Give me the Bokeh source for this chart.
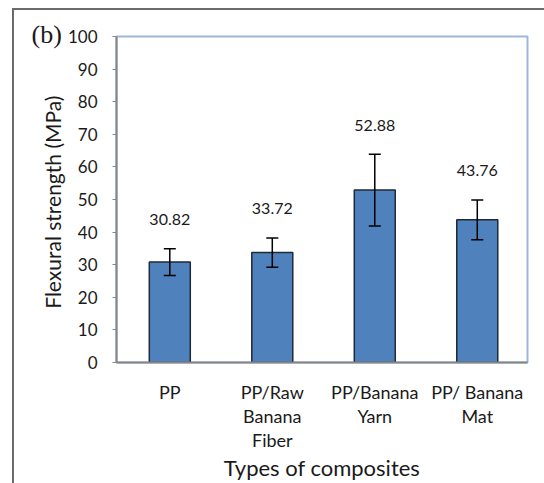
from bokeh.plotting import figure
from bokeh.models import Range1d, FixedTicker, Whisker, ColumnDataSource, TeeHead
from bokeh.embed import file_html
from bokeh.resources import INLINE
from bokeh.core.properties import value

categories = ["PP", "PP/Raw\nBanana\nFiber", "PP/Banana\nYarn", "PP/ Banana\nMat"]
strength = [30.82, 33.72, 52.88, 43.76]
errors = [4.1, 4.5, 11.0, 6.1]
y_ticks = [0, 10, 20, 30, 40, 50, 60, 70, 80, 90, 100]

FONT = "Lato"
TXT = "#1a1a1a"
xs = list(range(1, len(categories) + 1))
src = ColumnDataSource(dict(
    x=xs, top=strength,
    upper=[s + e for s, e in zip(strength, errors)],
    lower=[s - e for s, e in zip(strength, errors)],
    lab=[f"{s:.2f}" for s in strength],
))

p = figure(frame_width=411, frame_height=326, output_backend="svg", toolbar_location=None,
           x_range=Range1d(0.48, 4.49), y_range=Range1d(0, 100),
           min_border_left=102, min_border_right=19, min_border_top=26, min_border_bottom=110)
p.margin = (8, 0, 0, 12)
p.styles = {"border-left": "2px solid #6b6b6b", "border-top": "2px solid #6b6b6b"}

p.title.text = "(b)"
p.title.align = "left"
p.title.offset = -85
p.title.standoff = -24
p.title.text_font = "Liberation Serif"
p.title.text_font_size = "26px"
p.title.text_font_style = "normal"
p.title.text_color = TXT

p.grid.visible = False
p.outline_line_color = "#9bb7d9"
p.outline_line_width = 2

p.vbar(x="x", top="top", width=0.4, source=src, fill_color="#4f81bd",
       line_color="#1e2a36", line_width=1.5)
p.add_layout(Whisker(base="x", upper="upper", lower="lower", source=src,
                     level="overlay", line_color="black", line_width=1.5,
                     upper_head=TeeHead(size=12, line_color="black", line_width=1.5),
                     lower_head=TeeHead(size=12, line_color="black", line_width=1.5)))
p.text(x="x", y="upper", text="lab", source=src, text_align="center",
       text_baseline="middle", y_offset=-29, text_font=value(FONT),
       text_font_size="16px", text_color=TXT)

p.yaxis.ticker = FixedTicker(ticks=y_ticks)
p.yaxis.minor_tick_line_color = None
p.yaxis.major_tick_out = 4
p.yaxis.major_tick_in = 0
p.yaxis.major_tick_line_color = "#868686"
p.yaxis.axis_line_color = "#868686"
p.yaxis.axis_line_width = 2
p.yaxis.major_label_text_font = FONT
p.yaxis.major_label_text_font_size = "17px"
p.yaxis.major_label_text_color = TXT
p.yaxis.major_label_standoff = 15
p.yaxis.axis_label = "Flexural  strength (MPa)"
p.yaxis.axis_label_text_font = FONT
p.yaxis.axis_label_text_font_style = "normal"
p.yaxis.axis_label_text_font_size = "21px"
p.yaxis.axis_label_text_color = TXT
p.yaxis.axis_label_standoff = 0

p.xaxis.ticker = FixedTicker(ticks=xs)
p.xaxis.major_label_overrides = {i: c for i, c in zip(xs, categories)}
p.xaxis.major_tick_line_color = None
p.xaxis.minor_tick_line_color = None
p.xaxis.axis_line_color = "#868686"
p.xaxis.axis_line_width = 2
p.xaxis.major_label_text_font = FONT
p.xaxis.major_label_text_font_size = "18px"
p.xaxis.major_label_text_color = TXT
p.xaxis.major_label_standoff = 12
p.xaxis.major_label_text_line_height = 1.1
p.xaxis.axis_label = "Types of composites"
p.xaxis.axis_label_text_font = FONT
p.xaxis.axis_label_text_font_style = "normal"
p.xaxis.axis_label_text_font_size = "22px"
p.xaxis.axis_label_text_color = TXT
p.xaxis.axis_label_standoff = 0

open("out.html", "w").write(file_html(p, INLINE))
